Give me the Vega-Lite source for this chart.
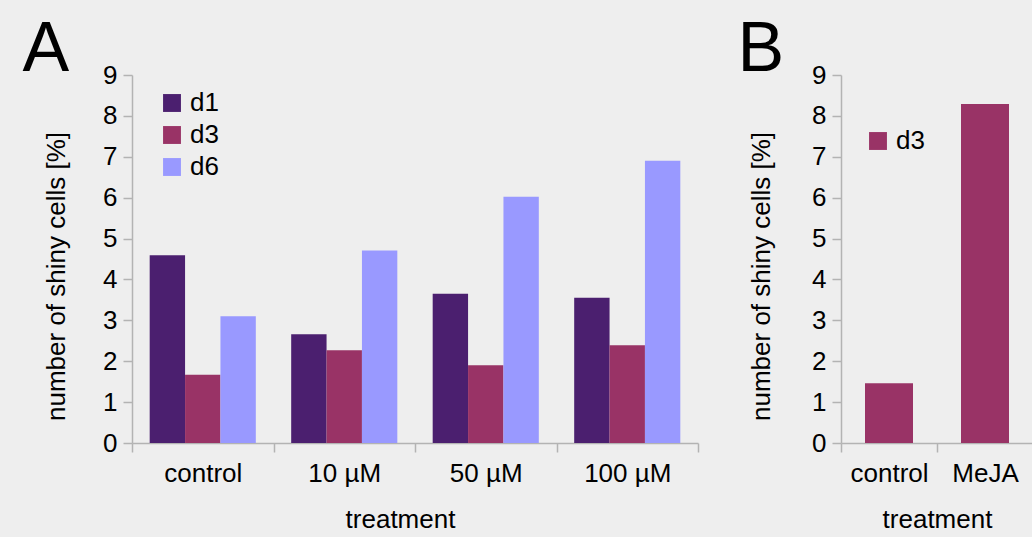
{
  "$schema": "https://vega.github.io/schema/vega-lite/v6.json",
  "background": "#eeeeee",
  "padding": {"left": 22, "top": 15, "right": 0, "bottom": 6},
  "datasets": {
    "dose": [
      {"treatment": "control", "day": "d1", "share": 4.59},
      {"treatment": "control", "day": "d3", "share": 1.67},
      {"treatment": "control", "day": "d6", "share": 3.10},
      {"treatment": "10 µM", "day": "d1", "share": 2.66},
      {"treatment": "10 µM", "day": "d3", "share": 2.27},
      {"treatment": "10 µM", "day": "d6", "share": 4.71},
      {"treatment": "50 µM", "day": "d1", "share": 3.65},
      {"treatment": "50 µM", "day": "d3", "share": 1.90},
      {"treatment": "50 µM", "day": "d6", "share": 6.02},
      {"treatment": "100 µM", "day": "d1", "share": 3.55},
      {"treatment": "100 µM", "day": "d3", "share": 2.39},
      {"treatment": "100 µM", "day": "d6", "share": 6.90}
    ],
    "meja": [
      {"treatment": "control", "day": "d3", "share": 1.46},
      {"treatment": "MeJA", "day": "d3", "share": 8.29}
    ]
  },
  "config": {
    "font": "Liberation Sans",
    "view": {"stroke": null},
    "axis": {
      "grid": false,
      "domainColor": "#b3b3b3",
      "tickColor": "#b3b3b3",
      "domainWidth": 1.5,
      "tickWidth": 1.5,
      "tickSize": 9,
      "labelColor": "#000000",
      "labelFontSize": 26,
      "labelPadding": 6,
      "titleColor": "#000000",
      "titleFontSize": 26,
      "titleFontWeight": "normal"
    },
    "legend": {
      "labelFontSize": 26,
      "labelColor": "#000000",
      "symbolType": "square",
      "symbolSize": 320,
      "symbolStrokeWidth": 0,
      "labelOffset": 5,
      "rowPadding": 6
    },
    "title": {"fontSize": 70, "fontWeight": "normal", "color": "#000000", "anchor": "start", "frame": "bounds", "baseline": "alphabetic"}
  },
  "spacing": 38,
  "resolve": {"scale": {"color": "independent", "xOffset": "independent"}, "legend": {"color": "independent"}},
  "hconcat": [
    {
      "data": {"name": "dose"},
      "title": {"text": "A", "dx": -21, "offset": -24},
      "width": 566,
      "height": 368,
      "mark": {"type": "bar"},
      "encoding": {
        "x": {
          "field": "treatment",
          "type": "nominal",
          "sort": ["control", "10 µM", "50 µM", "100 µM"],
          "scale": {"paddingInner": 0, "paddingOuter": 0},
          "axis": {"labelAngle": 0, "tickBand": "extent", "labelPadding": 8, "title": "treatment", "titlePadding": 20, "titleX": 268}
        },
        "xOffset": {
          "field": "day",
          "type": "nominal",
          "scale": {"paddingInner": 0, "paddingOuter": 0.5}
        },
        "y": {
          "field": "share",
          "type": "quantitative",
          "scale": {"domain": [0, 9], "nice": false},
          "axis": {"values": [0, 1, 2, 3, 4, 5, 6, 7, 8, 9], "title": "number of shiny cells [%]", "titlePadding": 33, "titleY": 201}
        },
        "color": {
          "field": "day",
          "type": "nominal",
          "scale": {"domain": ["d1", "d3", "d6"], "range": ["#4b1f6f", "#993366", "#9999ff"]},
          "legend": {"title": null, "orient": "none", "legendX": 27, "legendY": 15}
        }
      }
    },
    {
      "data": {"name": "meja"},
      "title": {"text": "B", "dx": -11, "offset": -24},
      "width": 192,
      "height": 368,
      "mark": {"type": "bar"},
      "encoding": {
        "x": {
          "field": "treatment",
          "type": "nominal",
          "sort": ["control", "MeJA"],
          "scale": {"paddingInner": 0, "paddingOuter": 0},
          "axis": {"labelAngle": 0, "tickBand": "extent", "labelPadding": 8, "title": "treatment", "titlePadding": 20}
        },
        "xOffset": {
          "field": "day",
          "type": "nominal",
          "scale": {"paddingInner": 0, "paddingOuter": 0.5}
        },
        "y": {
          "field": "share",
          "type": "quantitative",
          "scale": {"domain": [0, 9], "nice": false},
          "axis": {"values": [0, 1, 2, 3, 4, 5, 6, 7, 8, 9], "title": "number of shiny cells [%]", "titlePadding": 37, "titleY": 201}
        },
        "color": {
          "field": "day",
          "type": "nominal",
          "scale": {"domain": ["d3"], "range": ["#993366"]},
          "legend": {"title": null, "orient": "none", "legendX": 24, "legendY": 53}
        }
      }
    }
  ]
}
